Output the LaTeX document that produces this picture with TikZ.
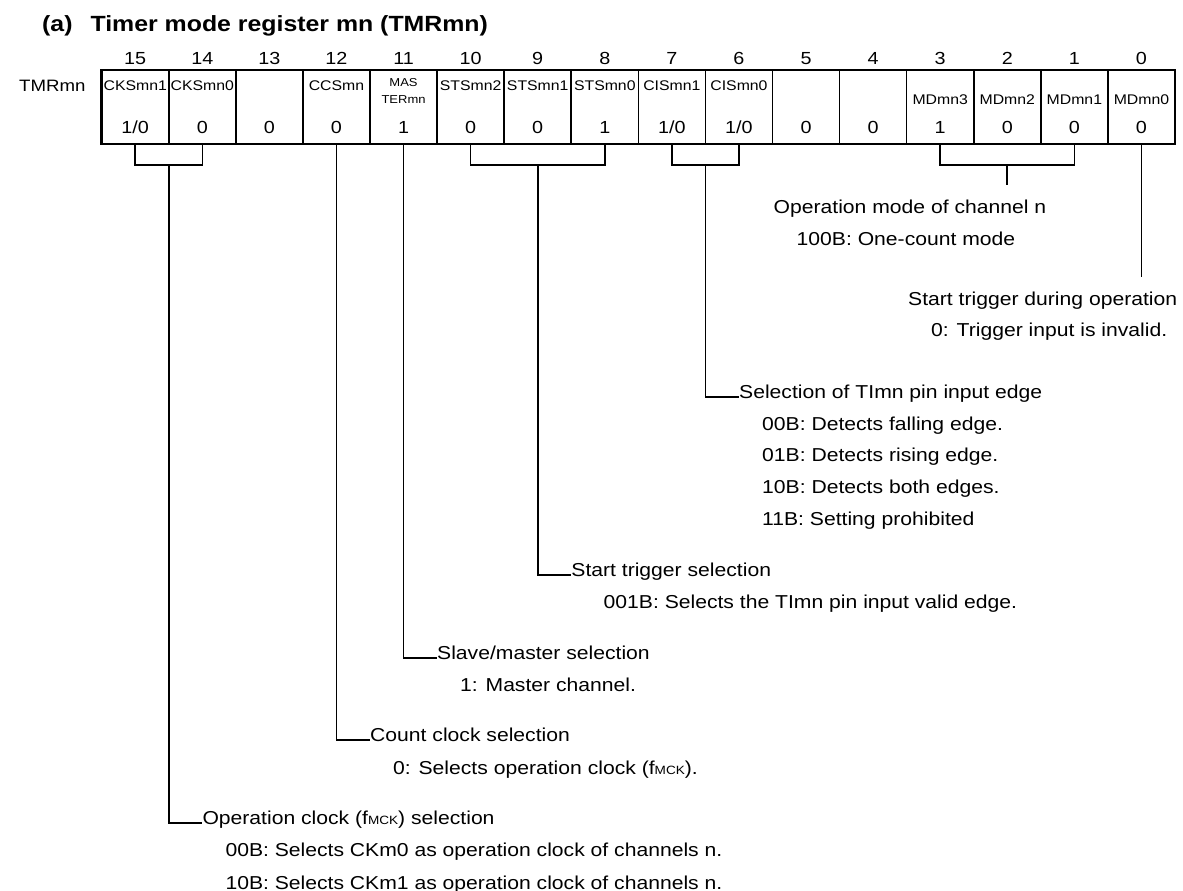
\documentclass[tikz,border=0pt]{standalone}
\usepackage{fontspec}
\setmainfont[FakeStretch=1.13]{Liberation Sans}
\begin{document}
\begin{tikzpicture}[x=1pt,y=-1pt,
  cell/.style={draw, line width=1.6pt, minimum width=67.08pt, minimum height=74pt, inner sep=0pt},
  conn/.style={line width=1.6pt},
  bitno/.style={font=\fontsize{17.5}{20}\selectfont, inner sep=0pt, anchor=base},
  fname/.style={font=\fontsize{14}{16}\selectfont, inner sep=0pt, anchor=base},
  tiny/.style={font=\fontsize{11.5}{13}\selectfont, inner sep=0pt, anchor=base},
  val/.style={font=\fontsize{17.5}{20}\selectfont, inner sep=0pt, anchor=base},
  desc/.style={font=\fontsize{18.7}{22}\selectfont, inner sep=0pt, anchor=base west},
]
\useasboundingbox (0,0) rectangle (1183,891);
\newcommand{\fmck}{f{\fontsize{12}{12}\selectfont MCK}}

% title and register name
\node[font=\fontsize{22}{24}\selectfont\bfseries, inner sep=0pt, anchor=base west] (title) at (42,31.7) {(a)\hspace{18pt}Timer mode register mn (TMRmn)};
\node[font=\fontsize{16.5}{18}\selectfont, inner sep=0pt, anchor=base west] (reg) at (19,91.7) {TMRmn};

% cells and bit numbers
\foreach \b in {15,...,0}{
  \pgfmathsetmacro{\cx}{101.7+(15.5-\b)*67.08}
  \node[cell] (c\b) at (\cx,107) {};
  \node[bitno] (n\b) at (\cx,64.3) {\b};
}
\draw[line width=2.6pt] (101.7,70) rectangle (1174.98,144);

% field names
\node[fname] (f15) at (c15 |- 0,90) {CKSmn1};
\node[fname] (f14) at (c14 |- 0,90) {CKSmn0};
\node[fname] (f12) at (c12 |- 0,90) {CCSmn};
\node[tiny]  (f11a) at (c11 |- 0,86) {MAS};
\node[tiny]  (f11b) at (c11 |- 0,103) {TERmn};
\node[fname] (f10) at (c10 |- 0,90) {STSmn2};
\node[fname] (f9)  at (c9 |- 0,90) {STSmn1};
\node[fname] (f8)  at (c8 |- 0,90) {STSmn0};
\node[fname] (f7)  at (c7 |- 0,90) {CISmn1};
\node[fname] (f6)  at (c6 |- 0,90) {CISmn0};
\node[fname] (f3)  at (c3 |- 0,104) {MDmn3};
\node[fname] (f2)  at (c2 |- 0,104) {MDmn2};
\node[fname] (f1)  at (c1 |- 0,104) {MDmn1};
\node[fname] (f0)  at (c0 |- 0,104) {MDmn0};

% values
\node[val] (v15) at (c15 |- 0,133) {1/0};
\node[val] (v14) at (c14 |- 0,133) {0};
\node[val] (v13) at (c13 |- 0,133) {0};
\node[val] (v12) at (c12 |- 0,133) {0};
\node[val] (v11) at (c11 |- 0,133) {1};
\node[val] (v10) at (c10 |- 0,133) {0};
\node[val] (v9)  at (c9 |- 0,133) {0};
\node[val] (v8)  at (c8 |- 0,133) {1};
\node[val] (v7)  at (c7 |- 0,133) {1/0};
\node[val] (v6)  at (c6 |- 0,133) {1/0};
\node[val] (v5)  at (c5 |- 0,133) {0};
\node[val] (v4)  at (c4 |- 0,133) {0};
\node[val] (v3)  at (c3 |- 0,133) {1};
\node[val] (v2)  at (c2 |- 0,133) {0};
\node[val] (v1)  at (c1 |- 0,133) {0};
\node[val] (v0)  at (c0 |- 0,133) {0};

% descriptions
\node[desc] (mdT) at (773.5,213.4) {Operation mode of channel n};
\node[desc] (mdL1) at (796.5,245) {100B: One-count mode};
\node[desc] (m0T) at (908,305) {Start trigger during operation};
\node[desc] (m0L1) at (931,336.7) {0: Trigger input is invalid.};
\node[desc] (ciT) at (739,398.4) {Selection of TImn pin input edge};
\node[desc] (ciL1) at (762,430) {00B: Detects falling edge.};
\node[desc] (ciL2) at (762,461.7) {01B: Detects rising edge.};
\node[desc] (ciL3) at (762,493.4) {10B: Detects both edges.};
\node[desc] (ciL4) at (762,525) {11B: Setting prohibited};
\node[desc] (stT) at (571.2,576.7) {Start trigger selection};
\node[desc] (stL1) at (603.5,608.4) {001B: Selects the TImn pin input valid edge.};
\node[desc] (maT) at (437,659.4) {Slave/master selection};
\node[desc] (maL1) at (460,691.7) {1: Master channel.};
\node[desc] (ccT) at (370,741.7) {Count clock selection};
\node[desc] (ccL1) at (393,774) {0: Selects operation clock (\fmck).};
\node[desc] (ckT) at (202.3,824.4) {Operation clock (\fmck) selection};
\node[desc] (ckL1) at (225.3,856.7) {00B: Selects CKm0 as operation clock of channels n.};
\node[desc] (ckL2) at (225.3,889) {10B: Selects CKm1 as operation clock of channels n.};

% connectors
\coordinate (ckb) at (168.78,165);
\draw[conn] (c15.south) -- (c15.south |- ckb) -- (c14.south |- ckb) -- (c14.south);
\draw[conn] (ckb) |- ([yshift=1.6pt]ckT.base west);

\draw[conn] (c12.south) |- ([yshift=1.6pt]ccT.base west);
\draw[conn] (c11.south) |- ([yshift=1.6pt]maT.base west);

\coordinate (stb) at (c9.south |- 0,165);
\draw[conn] (c10.south) -- (c10.south |- stb) -- (c8.south |- stb) -- (c8.south);
\draw[conn] (stb) |- ([yshift=1.6pt]stT.base west);

\coordinate (cib) at (705.42,165);
\draw[conn] (c7.south) -- (c7.south |- cib) -- (c6.south |- cib) -- (c6.south);
\draw[conn] (cib) |- ([yshift=1.6pt]ciT.base west);

\coordinate (mdb) at (c2.south |- 0,165);
\coordinate (mdend) at (c2.south |- 0,185);
\draw[conn] (c3.south) -- (c3.south |- mdb) -- (c1.south |- mdb) -- (c1.south);
\draw[conn] (mdb) -- (mdend);

\coordinate (m0end) at (c0.south |- 0,276.7);
\draw[conn] (c0.south) -- (m0end);
\end{tikzpicture}
\end{document}
